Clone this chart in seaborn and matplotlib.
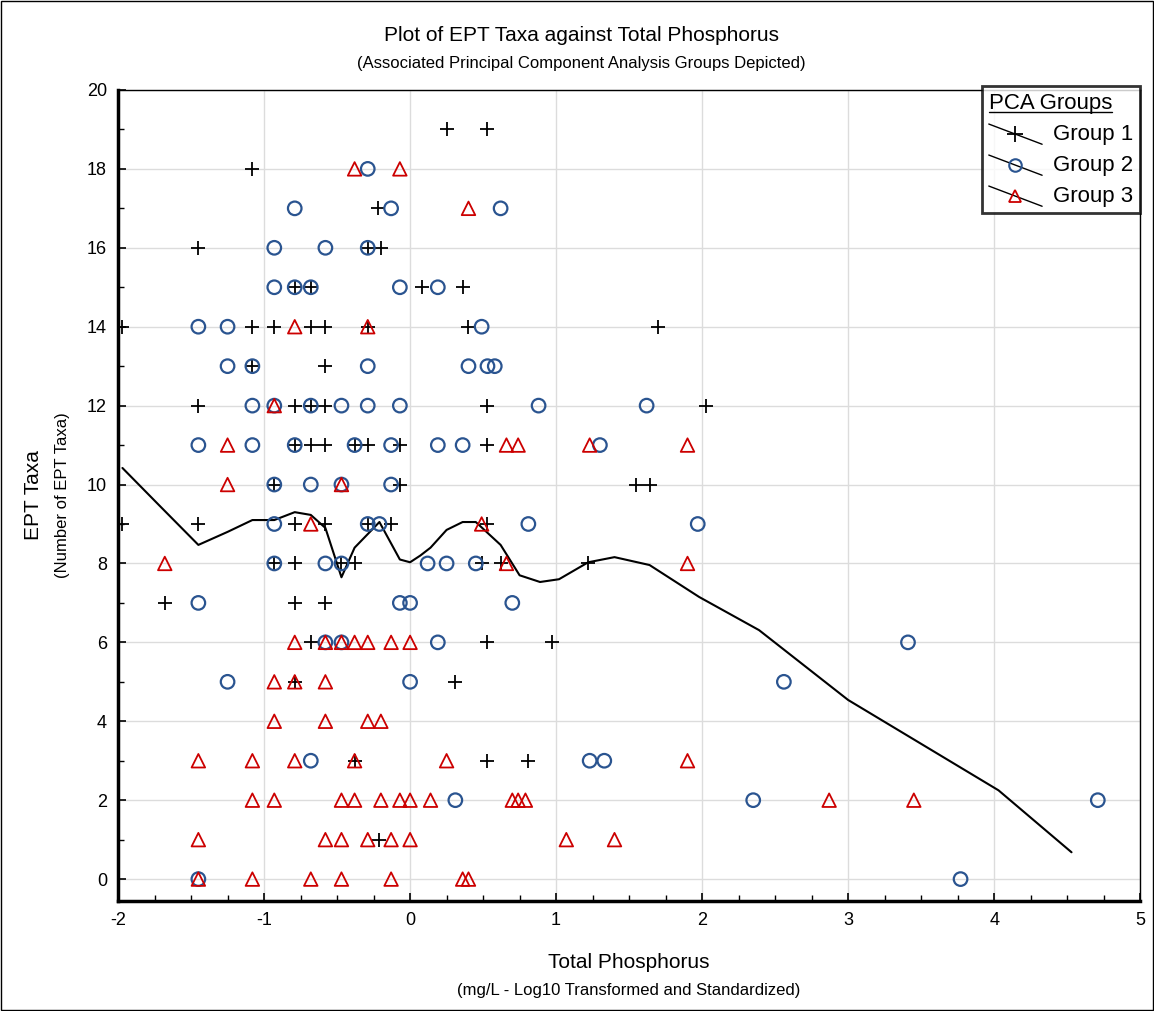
import matplotlib.pyplot as plt
import seaborn as sns
import pandas as pd
from matplotlib.lines import Line2D
from matplotlib.legend_handler import HandlerBase
from matplotlib.ticker import MultipleLocator

plt.switch_backend('Agg')

# Group 1 (+) : (x, EPT taxa)
g1_x = [0.25, 0.53, -1.08, -0.22, -1.45, -0.29, -0.20,
        -0.79, -0.68, 0.08, 0.36,
        -1.97, -1.08, -0.93, -0.68, -0.58, -0.29, 0.40, 1.70,
        -1.08, -0.58,
        -1.45, -0.79, -0.68, -0.58, 0.53, 2.03,
        -0.79, -0.68, -0.58, -0.38, -0.29, -0.07, 0.53,
        -0.93, -0.07, 1.55, 1.64,
        -1.97, -1.45, -0.79, -0.58, -0.29, -0.13, 0.53,
        -0.93, -0.79, -0.47, -0.38, 0.49, 0.62, 1.22,
        -1.68, -0.79, -0.58,
        -0.68, 0.53, 0.97,
        -0.79, 0.31,
        -0.38, 0.53, 0.81,
        -0.21]
g1_y = [19, 19, 18, 17, 16, 16, 16,
        15, 15, 15, 15,
        14, 14, 14, 14, 14, 14, 14, 14,
        13, 13,
        12, 12, 12, 12, 12, 12,
        11, 11, 11, 11, 11, 11, 11,
        10, 10, 10, 10,
        9, 9, 9, 9, 9, 9, 9,
        8, 8, 8, 8, 8, 8, 8,
        7, 7, 7,
        6, 6, 6,
        5, 5,
        3, 3, 3,
        1]

# Group 2 (o)
g2_x = [-0.29,
        -0.79, -0.13, 0.62,
        -0.93, -0.58, -0.29,
        -0.93, -0.79, -0.68, -0.07, 0.19,
        -1.45, -1.25, 0.49,
        -1.25, -1.08, -0.29, 0.40, 0.53, 0.58,
        -1.08, -0.93, -0.68, -0.47, -0.29, -0.07, 0.88, 1.62,
        -1.45, -1.08, -0.79, -0.38, -0.13, 0.19, 0.36, 1.30,
        -0.93, -0.68, -0.47, -0.13,
        -0.93, -0.29, -0.21, 0.81, 1.97,
        -0.93, -0.58, -0.47, 0.12, 0.25, 0.45,
        -1.45, -0.07, 0.00, 0.70,
        -0.58, -0.47, 0.19, 3.41,
        -1.25, 0.00, 2.56,
        -0.68, 1.23, 1.33,
        0.31, 2.35, 4.71,
        -1.45, 3.77]
g2_y = [18,
        17, 17, 17,
        16, 16, 16,
        15, 15, 15, 15, 15,
        14, 14, 14,
        13, 13, 13, 13, 13, 13,
        12, 12, 12, 12, 12, 12, 12, 12,
        11, 11, 11, 11, 11, 11, 11, 11,
        10, 10, 10, 10,
        9, 9, 9, 9, 9,
        8, 8, 8, 8, 8, 8,
        7, 7, 7, 7,
        6, 6, 6, 6,
        5, 5, 5,
        3, 3, 3,
        2, 2, 2,
        0, 0]

# Group 3 (^)
g3_x = [-0.38, -0.07,
        0.40,
        -0.79, -0.29,
        -0.93,
        -1.25, 0.66, 0.74, 1.23, 1.90,
        -1.25, -0.47,
        -0.68, 0.49,
        -1.68, 0.66, 1.90,
        -0.79, -0.58, -0.47, -0.38, -0.29, -0.13, 0.00,
        -0.93, -0.79, -0.58,
        -0.93, -0.58, -0.29, -0.20,
        -1.45, -1.08, -0.79, -0.38, 0.25, 1.90,
        -1.08, -0.93, -0.47, -0.38, -0.20, -0.07, 0.00, 0.14, 0.70, 0.74, 0.79, 2.87, 3.45,
        -1.45, -0.58, -0.47, -0.29, -0.13, 0.00, 1.07, 1.40,
        -1.45, -1.08, -0.68, -0.47, -0.13, 0.36, 0.40]
g3_y = [18, 18,
        17,
        14, 14,
        12,
        11, 11, 11, 11, 11,
        10, 10,
        9, 9,
        8, 8, 8,
        6, 6, 6, 6, 6, 6, 6,
        5, 5, 5,
        4, 4, 4, 4,
        3, 3, 3, 3, 3, 3,
        2, 2, 2, 2, 2, 2, 2, 2, 2, 2, 2, 2, 2,
        1, 1, 1, 1, 1, 1, 1, 1,
        0, 0, 0, 0, 0, 0, 0]

# smoothed fit line
fit_x = [-1.97, -1.72, -1.45, -1.25, -1.08, -0.93, -0.79, -0.68, -0.58, -0.47,
         -0.38, -0.21, -0.07, 0.0, 0.07, 0.14, 0.25, 0.36, 0.45, 0.62, 0.75,
         0.89, 1.02, 1.22, 1.40, 1.64, 1.98, 2.39, 3.0, 4.03, 4.53]
fit_y = [10.42, 9.48, 8.47, 8.8, 9.1, 9.1, 9.3, 9.23, 8.9, 7.65,
         8.4, 9.05, 8.1, 8.03, 8.2, 8.4, 8.85, 9.05, 9.05, 8.47, 7.7,
         7.53, 7.6, 8.03, 8.16, 7.96, 7.15, 6.31, 4.54, 2.25, 0.68]

df = pd.concat([
    pd.DataFrame({"tp": g1_x, "ept": g1_y, "group": "Group 1"}),
    pd.DataFrame({"tp": g2_x, "ept": g2_y, "group": "Group 2"}),
    pd.DataFrame({"tp": g3_x, "ept": g3_y, "group": "Group 3"}),
])

sns.set_theme(style="whitegrid")
plt.rcParams['font.family'] = ['Liberation Sans', 'DejaVu Sans']
plt.rcParams['text.color'] = 'black'
plt.rcParams['axes.unicode_minus'] = False

fig = plt.figure(figsize=(11.54, 10.11), dpi=100)
ax = fig.add_axes([0.1023, 0.109, 0.8857, 0.802])

blue = "#2a5490"
red = "#cc0000"
sub = df[df.group == "Group 1"]
sns.scatterplot(data=sub, x="tp", y="ept", marker="+", color="black", s=110,
                linewidth=1.3, ax=ax, zorder=3)
sub = df[df.group == "Group 2"]
sns.scatterplot(data=sub, x="tp", y="ept", marker="o", facecolor="none",
                edgecolor=blue, s=95, linewidth=1.6, ax=ax, zorder=3)
sub = df[df.group == "Group 3"]
sns.scatterplot(data=sub, x="tp", y="ept", marker="^", facecolor="none",
                edgecolor=red, s=95, linewidth=1.3, ax=ax, zorder=3)
sns.lineplot(x=fit_x, y=fit_y, color="black", linewidth=1.5, ax=ax, sort=False,
             zorder=2)

ax.set_xlim(-2, 5)
ax.set_ylim(-0.55, 20)
ax.set_yticks(range(0, 21, 2))
ax.xaxis.set_minor_locator(MultipleLocator(0.25))
ax.yaxis.set_minor_locator(MultipleLocator(1))
ax.grid(True, which="major", color="#dcdcdc", linewidth=1)
ax.grid(False, which="minor")
ax.set_facecolor("white")
for sp in ax.spines.values():
    sp.set_color("black")
    sp.set_linewidth(1)
ax.spines["left"].set_linewidth(2.5)
ax.spines["bottom"].set_linewidth(2.5)
ax.tick_params(which="both", direction="in", colors="black", labelsize=13)
ax.tick_params(which="major", length=6, width=1.2, pad=8)
ax.tick_params(which="minor", length=4, width=1)
ax.tick_params(top=False, right=False, left=True, bottom=True, which="both")

ax.set_xlabel("")
ax.set_ylabel("")
fig.text(0.504, 0.965, "Plot of EPT Taxa against Total Phosphorus", ha="center",
         va="center", fontsize=15)
fig.text(0.504, 0.937, "(Associated Principal Component Analysis Groups Depicted)",
         ha="center", va="center", fontsize=12)
fig.text(0.545, 0.048, "Total Phosphorus", ha="center", va="center", fontsize=15)
fig.text(0.545, 0.020, "(mg/L - Log10 Transformed and Standardized)",
         ha="center", va="center", fontsize=12)
fig.text(0.029, 0.51, "EPT Taxa", rotation=90, va="center", ha="center", fontsize=15)
fig.text(0.054, 0.51, "(Number of EPT Taxa)", rotation=90, va="center",
         ha="center", fontsize=12)


class DiagHandler(HandlerBase):
    # legend key: diagonal line with the marker in the middle
    def __init__(self, marker, mkw):
        super().__init__()
        self.marker = marker
        self.mkw = mkw

    def create_artists(self, legend, orig, xd, yd, w, h, fs, trans):
        ln = Line2D([xd, xd + w], [yd + h * 1.0, yd - h * 0.3], color="black",
                    lw=1, transform=trans)
        mk = Line2D([xd + w / 2], [yd + h * 0.35], marker=self.marker,
                    linestyle="none", transform=trans, **self.mkw)
        return [ln, mk]


handles = [Line2D([0], [0]), Line2D([0], [1]), Line2D([0], [2])]
hmap = {
    handles[0]: DiagHandler("+", dict(markersize=11, markeredgecolor="black",
                                      markeredgewidth=1.3)),
    handles[1]: DiagHandler("o", dict(markersize=9, markerfacecolor="none",
                                      markeredgecolor=blue, markeredgewidth=1.5)),
    handles[2]: DiagHandler("^", dict(markersize=9, markerfacecolor="none",
                                      markeredgecolor=red, markeredgewidth=1.3)),
}
leg = ax.legend(handles, ["Group 1", "Group 2", "Group 3"], title="PCA Groups",
                handler_map=hmap, loc="upper right", bbox_to_anchor=(1.0, 1.005),
                fontsize=16, title_fontsize=16, frameon=True, fancybox=False,
                handlelength=2.4, handletextpad=0.5, borderpad=0.3,
                labelspacing=0.45, borderaxespad=0)
leg.get_frame().set_edgecolor("black")
leg.get_frame().set_linewidth(2)
leg._legend_box.align = "left"

# underline the legend title
fig.canvas.draw()
bb = leg.get_title().get_window_extent().transformed(fig.transFigure.inverted())
fig.add_artist(Line2D([bb.x0, bb.x1], [bb.y0 + 0.002, bb.y0 + 0.002],
                      color="black", lw=1, transform=fig.transFigure))

fig.add_artist(plt.Rectangle((0.001, 0.001), 0.998, 0.998, transform=fig.transFigure,
                             fill=False, edgecolor="black", linewidth=1))
fig.savefig("out.png", dpi=100)
